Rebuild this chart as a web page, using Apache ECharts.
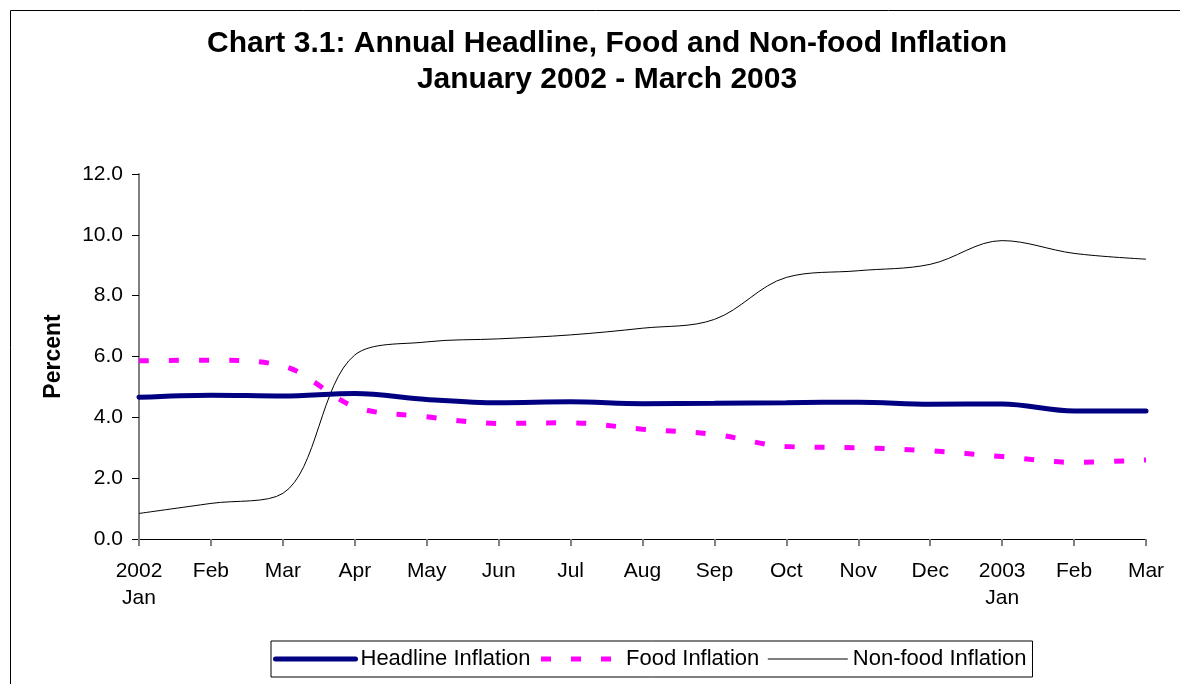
<!DOCTYPE html>
<html>
<head>
<meta charset="utf-8">
<script src="https://cdn.jsdelivr.net/npm/echarts@6/dist/echarts.min.js"></script>
<style>
html,body{margin:0;padding:0;background:#fff;}
#chart{width:1180px;height:684px;}
</style>
</head>
<body>
<div id="chart"></div>
<script>
const categories = ['2002\nJan','Feb','Mar','Apr','May','Jun','Jul','Aug','Sep','Oct','Nov','Dec','2003\nJan','Feb','Mar'];
const headline = [4.66,4.73,4.70,4.78,4.59,4.48,4.51,4.45,4.46,4.48,4.50,4.43,4.44,4.21,4.21];
const food = [5.86,5.88,5.69,4.35,4.02,3.80,3.82,3.61,3.44,3.04,3.00,2.90,2.71,2.52,2.60];
const nonfood = [0.84,1.17,1.50,6.05,6.48,6.58,6.71,6.93,7.22,8.60,8.82,9.03,9.81,9.39,9.20];
const yTicks = {min:0, max:12, interval:2};

const FONT = '"Liberation Sans", Arial, sans-serif';
const chart = echarts.init(document.getElementById('chart'));
chart.setOption({
  backgroundColor:'#fff',
  animation:false,
  graphic:[{type:'rect', shape:{x:10.5,y:10.5,width:1200,height:700}, style:{fill:'none',stroke:'#000',lineWidth:1}, silent:true}],
  title:{
    text:'Chart 3.1: Annual Headline, Food and Non-food Inflation\nJanuary 2002 - March 2003',
    left:602, top:21, textAlign:'center',
    textStyle:{fontFamily:FONT,fontWeight:'bold',fontSize:30,lineHeight:36,color:'#000'}
  },
  legend:{
    left:271, top:641,
    borderColor:'#000', borderWidth:1, padding:[7,6,7,2],
    itemWidth:80, itemHeight:14, itemGap:8,
    textStyle:{fontFamily:FONT,fontSize:22,color:'#000'},
    data:[
      {name:'Headline Inflation', itemStyle:{opacity:0}, lineStyle:{width:5,cap:'round'}},
      {name:'Food Inflation', itemStyle:{opacity:0}, lineStyle:{width:5}},
      {name:'Non-food Inflation', itemStyle:{opacity:0}, lineStyle:{width:1}}
    ]
  },
  grid:{left:139,right:34,top:174,bottom:145},
  xAxis:{
    type:'category', data:categories, boundaryGap:false,
    axisLine:{lineStyle:{color:'#000',width:1}},
    axisTick:{show:true,length:7,lineStyle:{color:'#808080',width:2},alignWithLabel:true},
    axisLabel:{fontFamily:FONT,fontSize:21,color:'#000',margin:19,lineHeight:27,interval:0}
  },
  yAxis:{
    type:'value', min:yTicks.min, max:yTicks.max, interval:yTicks.interval,
    name:'Percent', nameLocation:'middle', nameGap:74,
    nameTextStyle:{fontFamily:FONT,fontWeight:'bold',fontSize:23,color:'#000'},
    axisLine:{show:true,lineStyle:{color:'#808080',width:2}},
    axisTick:{show:true,length:7,lineStyle:{color:'#000',width:1}},
    splitLine:{show:false},
    axisLabel:{fontFamily:FONT,fontSize:21,color:'#000',margin:16,formatter:v=>v.toFixed(1)}
  },
  series:[
    {name:'Headline Inflation',type:'line',data:headline,smooth:0.35,showSymbol:false,symbol:'none',
      lineStyle:{color:'#000080',width:5,cap:'round'},itemStyle:{color:'#000080'},z:3},
    {name:'Food Inflation',type:'line',data:food,smooth:0.35,showSymbol:false,symbol:'none',
      lineStyle:{color:'#FF00FF',width:5,type:[10,20]},itemStyle:{color:'#FF00FF'},z:2},
    {name:'Non-food Inflation',type:'line',data:nonfood,smooth:0.35,showSymbol:false,symbol:'none',
      lineStyle:{color:'#000',width:1},itemStyle:{color:'#000'},z:1}
  ]
});
</script>
</body>
</html>
